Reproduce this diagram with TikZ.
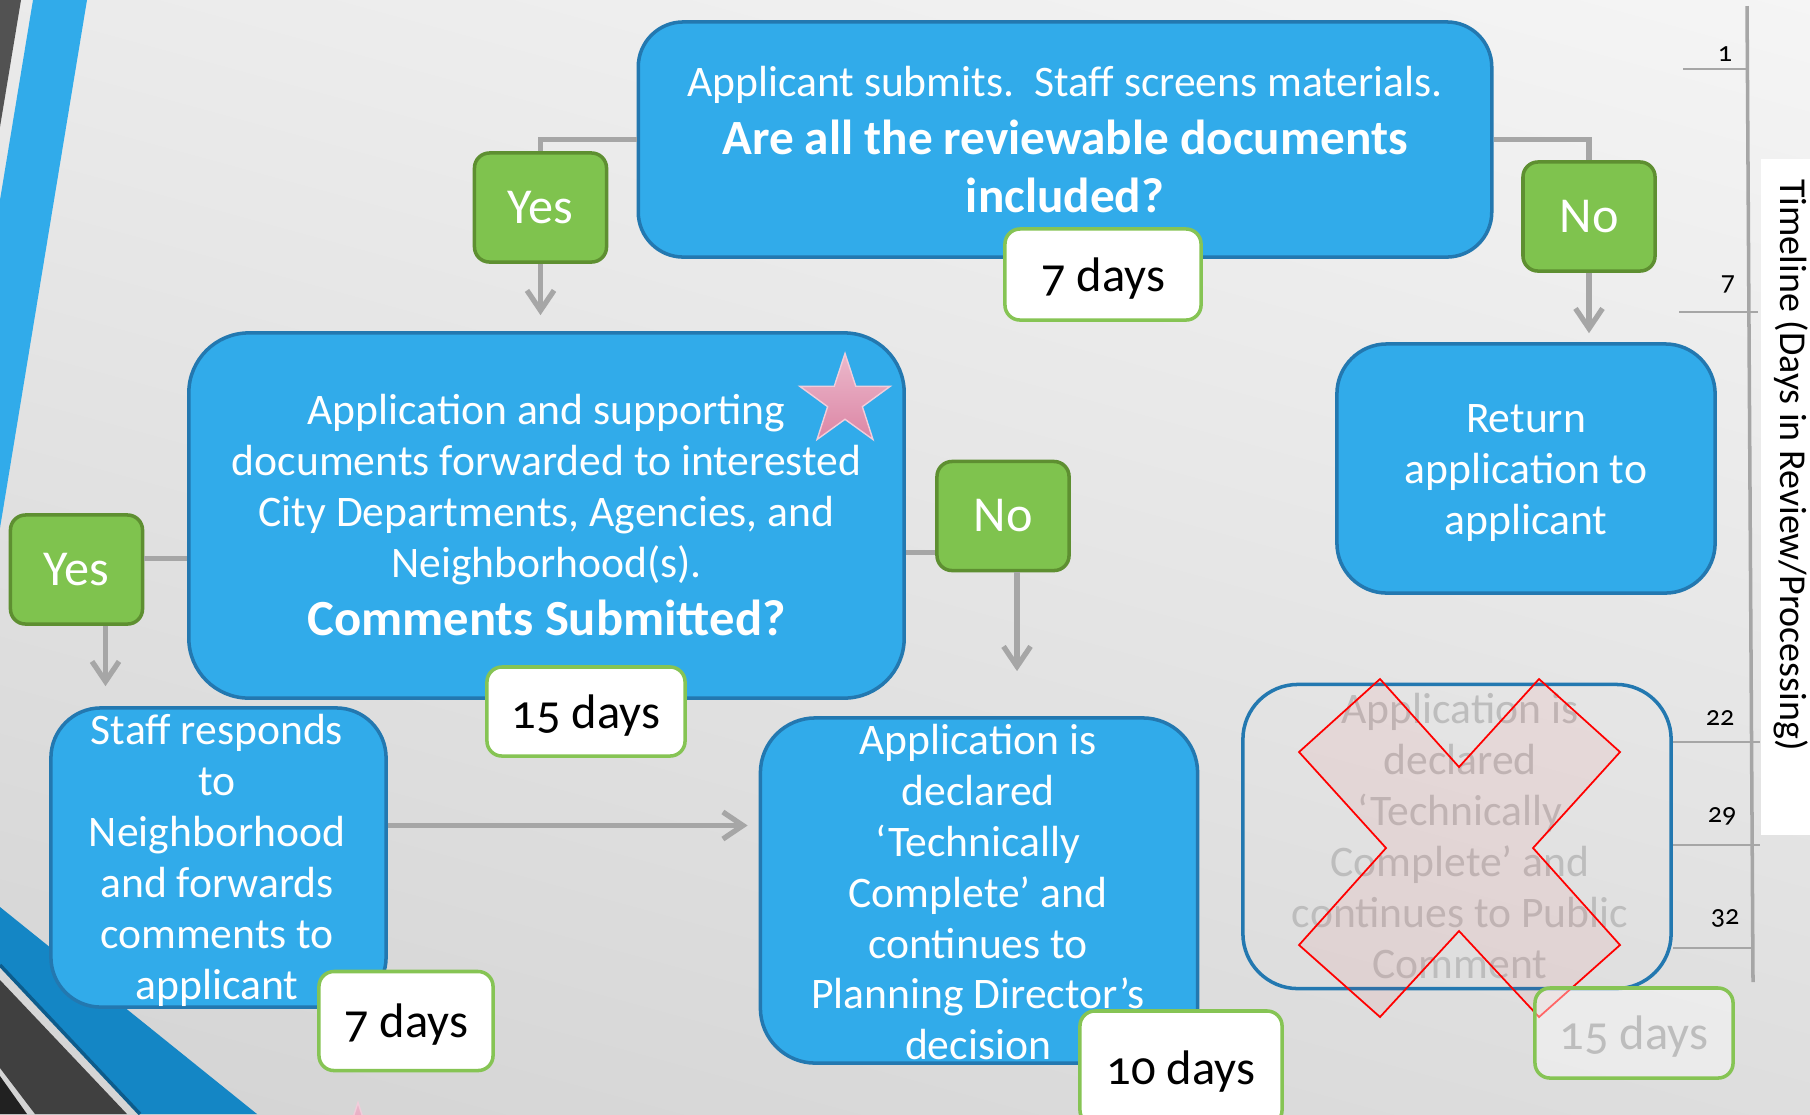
\documentclass[tikz,border=0pt]{standalone}
\usepackage{fontspec}
\setmainfont{Carlito}[Numbers=OldStyle]
\usetikzlibrary{arrows.meta,shapes.geometric,shadings}

\definecolor{procblue}{HTML}{31ABEA}
\definecolor{procedge}{HTML}{2378B0}
\definecolor{yesgreen}{HTML}{7FC34E}
\definecolor{yesedge}{HTML}{5E8F31}
\definecolor{dayedge}{HTML}{86C454}
\definecolor{linkgray}{HTML}{A6A6A6}
\definecolor{fadetext}{HTML}{BDBDBD}
\definecolor{stripeblue}{HTML}{1486C5}
\definecolor{stripedark}{HTML}{0D5C8C}
\definecolor{starpink}{HTML}{EBB8CB}
\definecolor{starpinkdark}{HTML}{DC86A5}

\tikzset{
  procbox/.style={draw=procedge, line width=1pt, fill=procblue, rounded corners=0.5cm,
    text=white, align=center, inner sep=0pt, font=\fontsize{12.4}{14.5}\selectfont},
  boxtext/.style={text=white, align=center, inner sep=0pt, font=\fontsize{12.4}{14.5}\selectfont},
  choice/.style={draw=yesedge, line width=1pt, fill=yesgreen, rounded corners=0.15cm,
    text=white, minimum width=1.32cm, minimum height=1.09cm, inner sep=0pt,
    font=\fontsize{14.3}{16}\selectfont},
  days/.style={draw=dayedge, line width=1pt, fill=white, rounded corners=0.15cm,
    minimum width=1.97cm, minimum height=0.9cm, inner sep=0pt, text depth=0pt,
    font=\fontsize{13.8}{15}\selectfont},
  link/.style={draw=linkgray, line width=1.5pt},
  flow/.style={link, -{Straight Barb[length=0.2cm, width=0.27cm]}},
  tick/.style={draw=linkgray, line width=0.7pt},
  daynum/.style={inner sep=0pt, font=\fontsize{8}{9}\selectfont},
  pinkstar/.style={star, star points=5, star point ratio=2.6, minimum size=0.95cm, inner sep=0pt,
    top color=starpink, bottom color=starpinkdark, draw=starpink!70!white, line width=0.4pt},
}

\begin{document}
\begin{tikzpicture}[x=0.01cm, y=-0.01cm]
\useasboundingbox (0,0) rectangle (1810,1114);
% background
\shade[upper left=black!8, upper right=black!4, lower left=black!17, lower right=black!13] (0,0) rectangle (1810,1114);
% stripes at the left
\fill[black!68] (0,0) -- (21,0) -- (0,127) -- cycle;
\fill[procblue] (33,0) -- (87,0) -- (0,528) -- (0,200) -- cycle;
\fill[stripeblue] (0,907) -- (257,1114) -- (140,1114) -- (0,965) -- cycle;
\draw[stripedark, line width=1pt] (0,965) -- (140,1114);
\fill[black!75] (0,980) -- (127,1114) -- (35,1114) -- (0,1068) -- cycle;
\fill[black!87] (0,1076) -- (27,1114) -- (0,1114) -- cycle;

% timeline
\draw[linkgray, line width=1pt] (1747,6) -- (1753,982);
\draw[tick] (1683,69) -- (1747,69);
\draw[tick] (1679,312) -- (1758,312);
\draw[tick] (1673,742) -- (1760,742);
\draw[tick] (1673,845) -- (1760,845);
\draw[tick] (1673,948) -- (1751,948);
\node[daynum] (t1) at (1725,54) {1};
\node[daynum] (t7) at (1728,284) {7};
\node[daynum] (t22) at (1720,718) {22};
\node[daynum] (t29) at (1722,816) {29};
\node[daynum] (t32) at (1725,918) {32};
\fill[white] (1761,159) rectangle (1810,835);
\node[rotate=-90, inner sep=0pt, font=\fontsize{10.8}{12}\selectfont] (tline) at (1791,465) {Timeline (Days in Review/Processing)};

% boxes
\node[procbox, minimum width=8.53cm, minimum height=2.35cm, rounded corners=0.45cm] (submit) at (1065,139.5)
  {Applicant submits.\ \ Staff screens materials.\\[2pt]
   {\fontsize{14}{16}\selectfont\bfseries Are all the reviewable documents}\\[2.2pt]
   {\fontsize{14}{16}\selectfont\bfseries included?}};
\node[days, minimum width=1.96cm, minimum height=0.91cm] (d1) at (1103,274.5) {7 days};
\node[choice] (yes1) at (540.5,207.5) {Yes};
\node[choice] (no1) at (1589,216.5) {No};
\node[procbox, minimum width=3.78cm, minimum height=2.49cm] (giveback) at (1526,468.5) {};
\node[boxtext] (givebacktext) at (1526,473) {Return\\application to\\applicant};

\node[procbox, minimum width=7.15cm, minimum height=3.65cm, rounded corners=0.6cm] (forward) at (546.5,515.5)
  {Application and supporting\\documents forwarded to interested\\City Departments, Agencies, and\\Neighborhood(s).\\[2pt]
   {\fontsize{14.4}{17}\selectfont\bfseries Comments Submitted?}};
\node[pinkstar] (star1) at (845,401) {};
\node[choice] (yes2) at (76.5,569.5) {Yes};
\node[choice] (no2) at (1003,516) {No};
\node[days, minimum width=1.98cm, minimum height=0.89cm] (d2) at (586,711.5) {15 days};

\node[procbox, minimum width=3.35cm, minimum height=2.99cm] (reply) at (218.5,857.5) {};
\node[boxtext] (replytext) at (217,860)
  {Staff responds\\to\\Neighborhood\\and forwards\\comments to\\applicant};
\node[days, minimum width=1.74cm, minimum height=0.99cm] (d3) at (406,1021) {7 days};

\node[procbox, minimum width=4.37cm, minimum height=3.45cm, rounded corners=0.55cm] (complete) at (979,890.5) {};
\node[boxtext] (completetext) at (978,892)
  {Application is\\declared\\‘Technically\\Complete’ and\\continues to\\Planning Director’s\\decision};
\node[days, minimum width=2.02cm, minimum height=1.14cm] (d4) at (1181,1068) {10 days};

\node[draw=procedge, line width=1pt, rounded corners=0.55cm, minimum width=4.28cm, minimum height=3.04cm] (skipped) at (1457,836.5) {};
\node[boxtext, text=fadetext] (skippedtext) at (1460,836)
  {Application is\\declared\\‘Technically\\Complete’ and\\continues to Public\\Comment};
\draw[red, line width=0.5pt, fill=red, fill opacity=0.05]
  (1380,679) -- (1459,767) -- (1539,679) -- (1620,752) -- (1533,848) -- (1620,945) --
  (1539,1017) -- (1459,931) -- (1380,1017) -- (1299,945) -- (1386,848) -- (1299,752) -- cycle;
\node[days, fill opacity=0.4, text opacity=1, text=fadetext, minimum width=1.98cm, minimum height=0.9cm] (d5) at (1634,1033) {15 days};
\node[pinkstar] (star2) at (358,1150) {};

% connectors
\draw[link] (submit.west) -| (yes1.north);
\draw[flow, shorten >=0.16cm] (yes1.south) -- (yes1.south |- forward.north);
\draw[link] (submit.east) -| (no1.north);
\draw[flow, shorten >=0.09cm] (no1.south) -- (no1.south |- giveback.north);
\draw[link] ([yshift=0.11cm]yes2.east) -- ([yshift=0.11cm]yes2.east -| forward.west);
\draw[flow, shorten >=0.2cm] ([xshift=0.29cm]yes2.south) -- ([xshift=0.29cm]yes2.south |- reply.north);
\draw[link] ([yshift=-0.37cm]forward.east) -- ([yshift=-0.37cm]forward.east -| no2.west);
\draw[flow, shorten >=0.45cm] ([xshift=0.14cm]no2.south) -- ([xshift=0.14cm]no2.south |- complete.north);
\draw[flow, shorten >=0.11cm] ([yshift=0.32cm]reply.east) -- ([yshift=0.32cm]reply.east -| complete.west);
\end{tikzpicture}
\end{document}
